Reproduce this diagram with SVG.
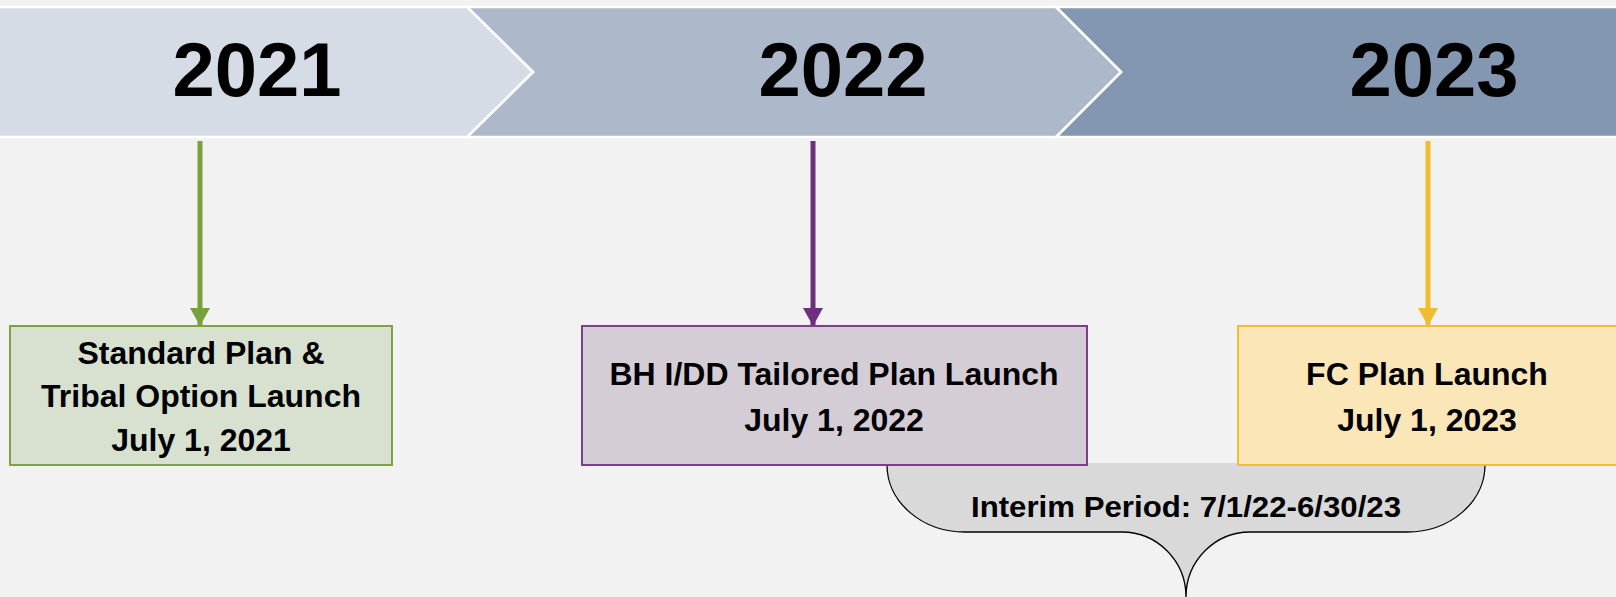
<svg xmlns="http://www.w3.org/2000/svg" width="1616" height="597" viewBox="0 0 1616 597">
  <style>
    .t { font-family: "Liberation Sans", Arial, sans-serif; font-weight: bold; fill: #000; text-anchor: middle; }
    .yr { font-size: 76px; }
    .bx { font-size: 32px; }
    .br { font-size: 30px; }
    .chev { stroke: #ffffff; stroke-width: 2.5; stroke-linejoin: miter; }
    .conn { fill: none; stroke-width: 5; }
  </style>
  <defs>
    <marker id="ahG" markerUnits="userSpaceOnUse" markerWidth="20" markerHeight="20" refX="18" refY="10" orient="auto">
      <path d="M0,0 L18,10 L0,20 Z" fill="#78a03c"/>
    </marker>
    <marker id="ahP" markerUnits="userSpaceOnUse" markerWidth="20" markerHeight="20" refX="18" refY="10" orient="auto">
      <path d="M0,0 L18,10 L0,20 Z" fill="#6e2f7e"/>
    </marker>
    <marker id="ahY" markerUnits="userSpaceOnUse" markerWidth="20" markerHeight="20" refX="18" refY="10" orient="auto">
      <path d="M0,0 L18,10 L0,20 Z" fill="#f0bc30"/>
    </marker>
  </defs>
  <rect x="0" y="0" width="1616" height="597" fill="#f2f2f2"/>

  <g id="year-2023">
    <polygon class="chev" points="1056,7 1700,7 1700,137 1056,137 1121,72" fill="#8497b0"/>
    <text class="t yr" x="1434" y="96">2023</text>
  </g>
  <g id="year-2022">
    <polygon class="chev" points="467,7 1056,7 1121,72 1056,137 467,137 533,72" fill="#adb9ca"/>
    <text class="t yr" x="843" y="96">2022</text>
  </g>
  <g id="year-2021">
    <polygon class="chev" points="-10,7 467,7 533,72 467,137 -10,137" fill="#d6dce5"/>
    <text class="t yr" x="257" y="96">2021</text>
  </g>

  <g id="connectors">
    <line class="conn" x1="200" y1="141" x2="200" y2="326" stroke="#78a03c" marker-end="url(#ahG)"/>
    <line class="conn" x1="813" y1="141" x2="813" y2="326" stroke="#6e2f7e" marker-end="url(#ahP)"/>
    <line class="conn" x1="1428" y1="141" x2="1428" y2="326" stroke="#f0bc30" marker-end="url(#ahY)"/>
  </g>

  <g id="interim-period">
    <path d="M887,463 L887,465 A78,67 0 0 0 965,532 L1122,532 A64,65 0 0 1 1186,597 A64,65 0 0 1 1250,532 L1407,532 A78,67 0 0 0 1485,465 L1485,463 Z" fill="#d9d9d9"/>
    <path d="M887,465 A78,67 0 0 0 965,532 L1122,532 A64,65 0 0 1 1186,597 A64,65 0 0 1 1250,532 L1407,532 A78,67 0 0 0 1485,465" fill="none" stroke="#000" stroke-width="1.3"/>
    <text class="t br" x="1186" y="517" textLength="430" lengthAdjust="spacingAndGlyphs">Interim Period: 7/1/22-6/30/23</text>
  </g>

  <g id="standard-plan">
    <rect x="10" y="326" width="382" height="139" fill="#d8e0cf" stroke="#7fa045" stroke-width="2"/>
    <text class="t bx" x="201" y="364">Standard Plan &amp;</text>
    <text class="t bx" x="201" y="407">Tribal Option Launch</text>
    <text class="t bx" x="201" y="451">July 1, 2021</text>
  </g>

  <g id="tailored-plan">
    <rect x="582" y="326" width="505" height="139" fill="#d5cdd6" stroke="#7b3f8a" stroke-width="2"/>
    <text class="t bx" x="834" y="385">BH I/DD Tailored Plan Launch</text>
    <text class="t bx" x="834" y="431">July 1, 2022</text>
  </g>

  <g id="fc-plan">
    <rect x="1238" y="326" width="400" height="139" fill="#fbe6b7" stroke="#f1bd33" stroke-width="2"/>
    <text class="t bx" x="1427" y="385">FC Plan Launch</text>
    <text class="t bx" x="1427" y="431">July 1, 2023</text>
  </g>
</svg>
